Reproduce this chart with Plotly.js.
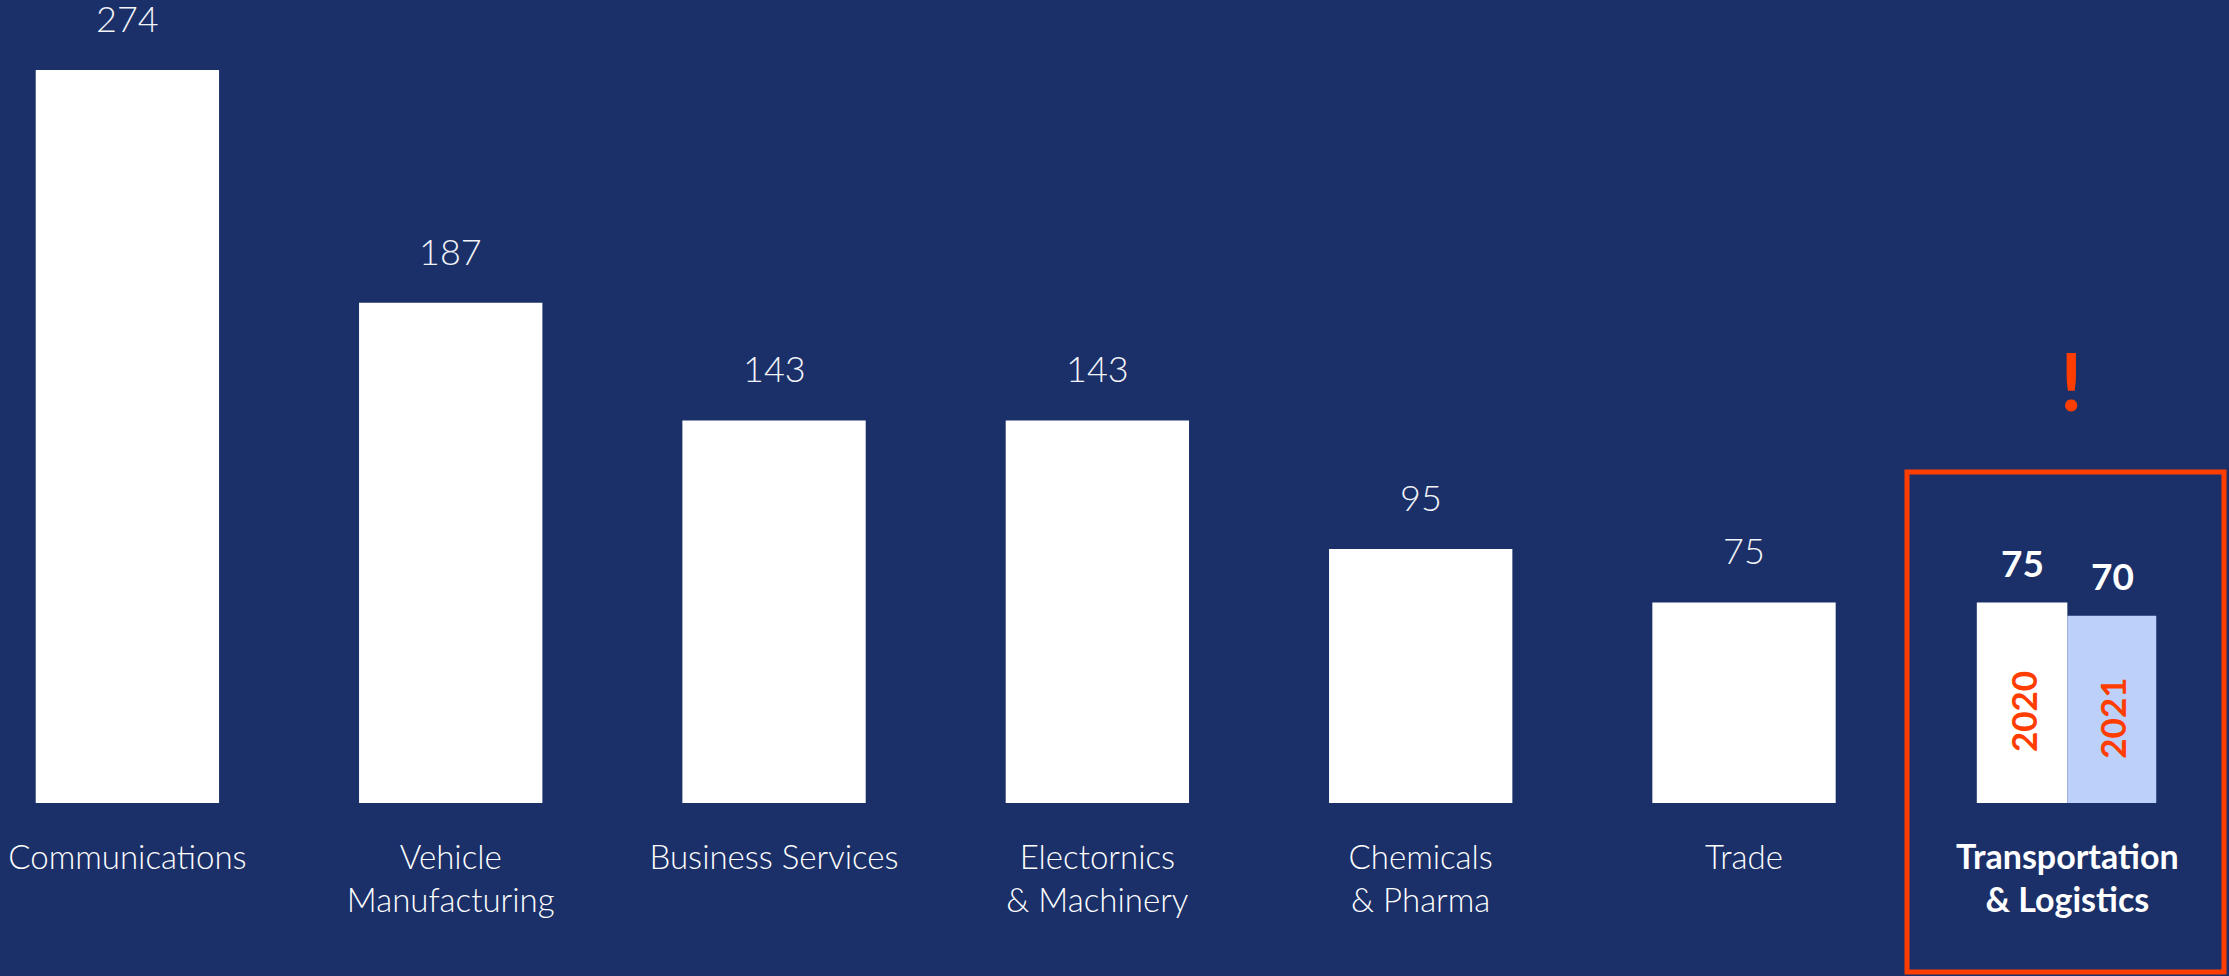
<!DOCTYPE html>
<html>
<head>
<meta charset="utf-8">
<script src="https://cdn.plot.ly/plotly-3.0.1.min.js"></script>
<style>
  html, body { margin: 0; padding: 0; background: #1B3068; }
  #chart { width: 2229px; height: 976px; }
</style>
</head>
<body>
<div id="chart"></div>
<script>
// ---- data ----
const categories = ["Communications", "Vehicle Manufacturing", "Business Services", "Electornics & Machinery", "Chemicals & Pharma", "Trade", "Transportation & Logistics"];
const tickLabels = ["Communications", "Vehicle<br>Manufacturing", "Business Services", "Electornics<br>& Machinery", "Chemicals<br>& Pharma", "Trade", "<b><span style='font-size:34px'>Transportation<br>& Logistics</span></b>"];
const mainCategories = categories.slice(0, 6);
const mainValues = [274, 187, 143, 143, 95, 75];
const highlightCategory = "Transportation & Logistics";
const years = ["2020", "2021"];
const highlightValues = [75, 70];

// ---- style ----
const BG = "#1B3068";
const RED = "#FF3D00";
const LIGHT = "#BDD0FA";
const FONT = "Lato, 'Open Sans', sans-serif";

const traces = [
  {
    type: "bar", x: mainCategories, y: mainValues, width: 0.567,
    marker: { color: "#FFFFFF" }, hoverinfo: "skip", showlegend: false
  },
  {
    type: "bar", x: [highlightCategory], y: [highlightValues[0]], width: 0.28, offset: -0.28,
    marker: { color: "#FFFFFF" }, hoverinfo: "skip", showlegend: false, name: years[0]
  },
  {
    type: "bar", x: [highlightCategory], y: [highlightValues[1]], width: 0.275, offset: 0,
    marker: { color: LIGHT }, hoverinfo: "skip", showlegend: false, name: years[1]
  }
];

const annotations = [];
mainCategories.forEach((c, i) => {
  annotations.push({
    x: c, y: mainValues[i], xref: "x", yref: "y", text: String(mainValues[i]),
    showarrow: false, yanchor: "middle", yshift: 52,
    font: { family: FONT, size: 36, color: "#F2F4F8", weight: 300 }
  });
});
const shifts = [-45, 45];
highlightValues.forEach((v, i) => {
  annotations.push({
    x: highlightCategory, y: v, xref: "x", yref: "y", text: "<b>" + v + "</b>",
    showarrow: false, yanchor: "middle", xshift: shifts[i], yshift: 40,
    font: { family: FONT, size: 37, color: "#FFFFFF" }
  });
  annotations.push({
    x: highlightCategory, y: v / 2, xref: "x", yref: "y", text: "<b>" + years[i] + "</b>",
    showarrow: false, textangle: -90, xshift: shifts[i], yshift: -9,
    font: { family: FONT, size: 35, color: RED }
  });
});
annotations.push({
  x: highlightCategory, y: 158, xref: "x", yref: "y", text: "<b>!</b>", showarrow: false,
  xshift: 4, font: { family: FONT, size: 80, color: RED }
});

const layout = {
  width: 2229, height: 976, autosize: false,
  margin: { l: 0, r: 0, t: 0, b: 173, pad: 0 },
  paper_bgcolor: BG, plot_bgcolor: BG,
  barmode: "overlay",
  xaxis: {
    type: "category", range: [-0.394, 6.5], fixedrange: true,
    tickvals: categories, ticktext: tickLabels,
    showgrid: false, zeroline: false, showline: false, ticks: "",
    ticklabelstandoff: 32,
    tickfont: { family: FONT, size: 33, color: "#FFFFFF", weight: 300 }
  },
  yaxis: { range: [0, 300.2], visible: false, fixedrange: true },
  annotations: annotations,
  shapes: [
    {
      type: "rect", xref: "paper", yref: "paper",
      x0: 1907 / 2229, x1: 2224 / 2229, y0: (803 - 972) / 803, y1: (803 - 472) / 803,
      line: { color: RED, width: 5 }, fillcolor: "rgba(0,0,0,0)", layer: "above"
    }
  ]
};

Plotly.newPlot("chart", traces, layout, { staticPlot: true, displayModeBar: false });
</script>
</body>
</html>
